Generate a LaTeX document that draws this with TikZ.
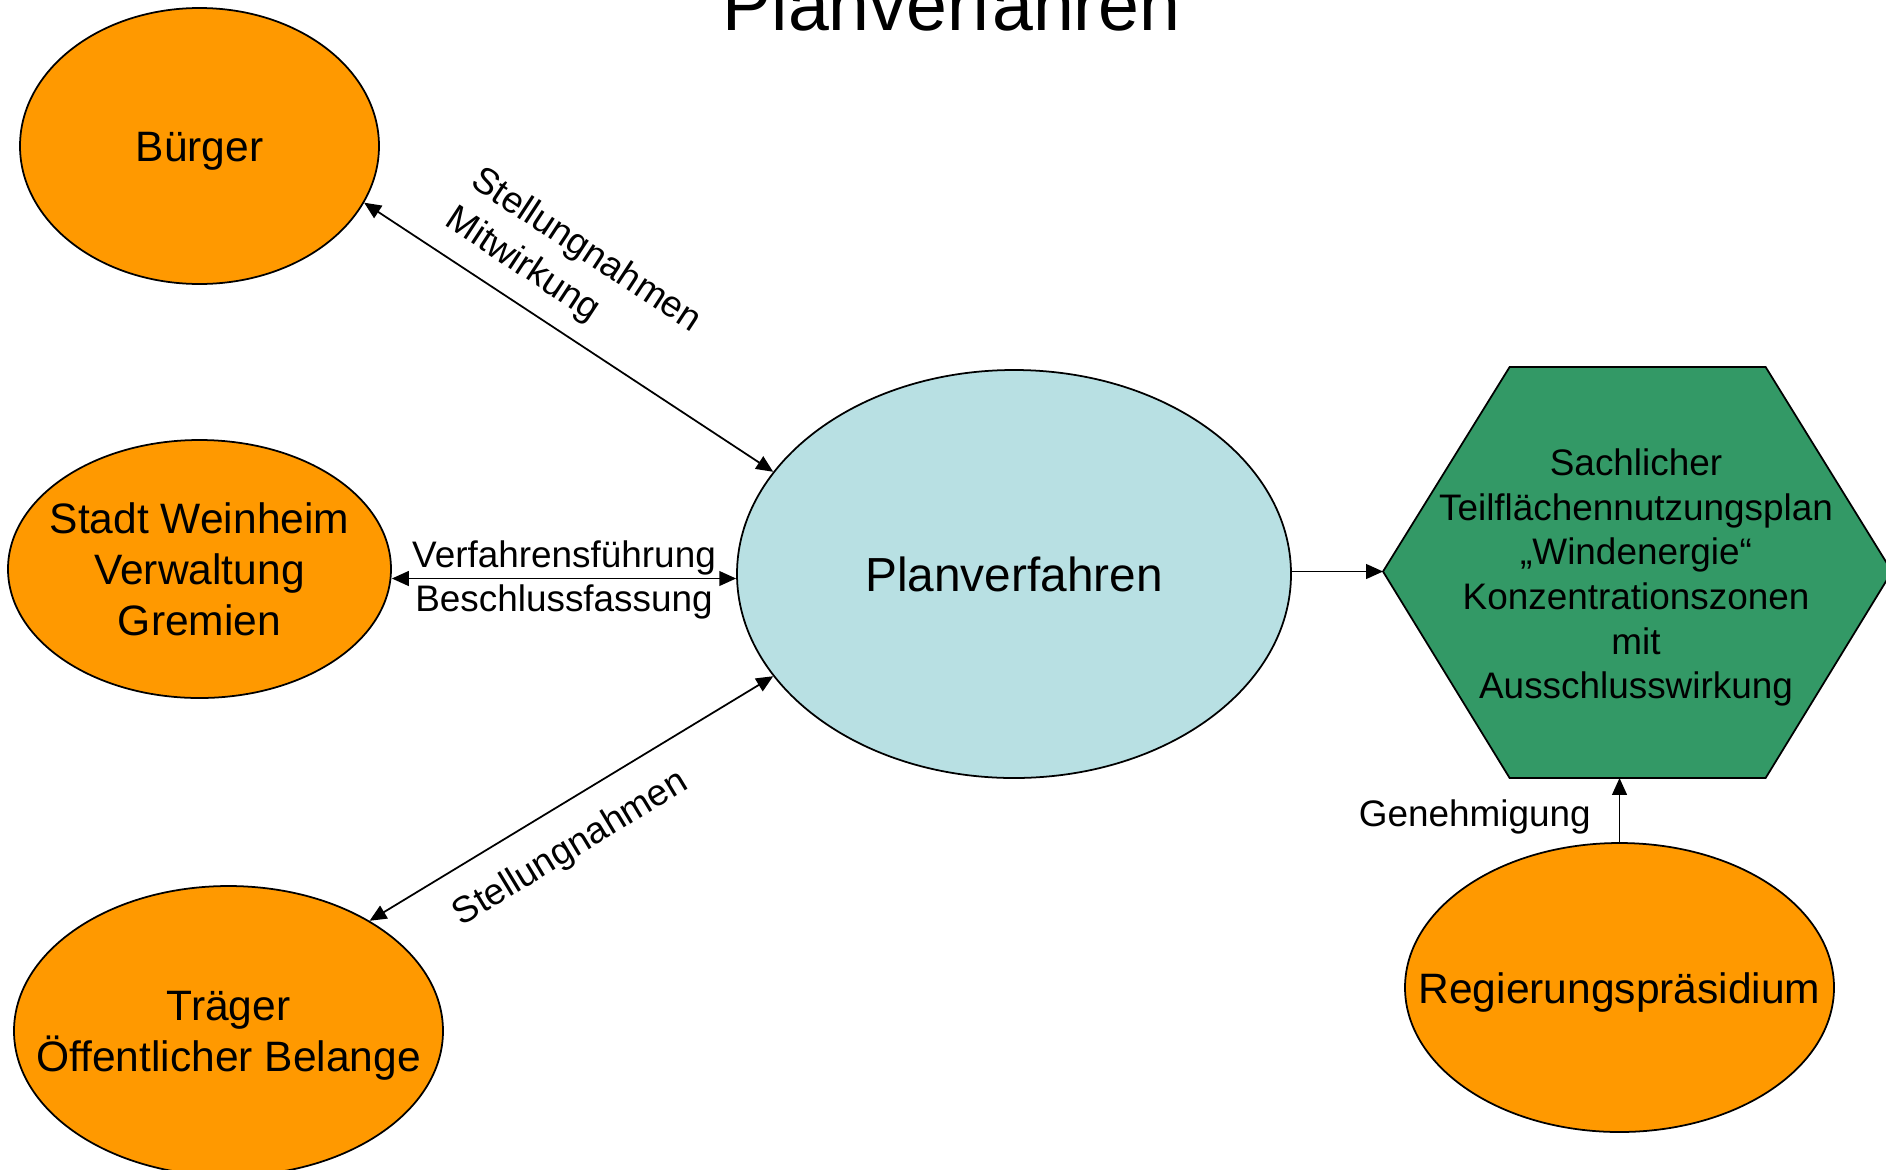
\documentclass[tikz,border=0pt]{standalone}
\usepackage{fontspec}
\setmainfont{Liberation Sans}
\usepackage{tikz}
\usetikzlibrary{shapes.geometric, arrows.meta, positioning, calc}
\usepackage{xcolor}

\definecolor{partyOrange}{HTML}{FF9900}
\definecolor{planBlue}{HTML}{B8E0E3}
\definecolor{fnpGreen}{HTML}{339966}

\begin{document}
\begin{tikzpicture}[
  party/.style={ellipse, draw=black, line width=0.5pt, fill=partyOrange, inner sep=0pt},
  partytext/.style={font=\fontsize{12.1}{14.5}\selectfont, align=center, inner sep=0pt},
  labeltext/.style={font=\fontsize{10.5}{12.7}\selectfont, inner sep=0pt},
  link/.style={line width=0.5pt, {Triangle[length=4.8pt,width=4.2pt]}-{Triangle[length=4.8pt,width=4.2pt]}},
  onelink/.style={line width=0.5pt, -{Triangle[length=4.8pt,width=4.2pt]}}
]

  \useasboundingbox (0,0) rectangle (18.86,-11.69);
  \clip (0,0) rectangle (18.86,-11.69);

  % Title
  \node[font=\fontsize{20.9}{25}\selectfont, anchor=base] (title) at (9.515,-0.31) {Planverfahren};

  % Participants
  \node[party, minimum width=3.59cm, minimum height=2.76cm] (buerger) at (1.995,-1.46) {};
  \node[partytext, yshift=-0.05cm] (buerger-text) at (buerger) {Bürger};

  \node[party, minimum width=3.83cm, minimum height=2.58cm] (stadt) at (1.995,-5.69) {};
  \node[partytext] (stadt-text) at (stadt) {Stadt Weinheim\\Verwaltung\\Gremien};

  \node[party, minimum width=4.29cm, minimum height=2.90cm] (traeger) at (2.285,-10.31) {};
  \node[partytext, yshift=-0.05cm] (traeger-text) at (traeger) {Träger\\Öffentlicher Belange};

  \node[party, minimum width=4.29cm, minimum height=2.89cm] (rp) at (16.195,-9.875) {};
  \node[partytext, yshift=-0.05cm] (rp-text) at (rp) {Regierungspräsidium};

  % Planverfahren
  \node[ellipse, draw=black, line width=0.5pt, fill=planBlue, inner sep=0pt,
        minimum width=5.54cm, minimum height=4.08cm,
        font=\fontsize{13.6}{16}\selectfont] (plan) at (10.14,-5.74) {Planverfahren};

  % Flaechennutzungsplan (hexagon)
  \coordinate (fnpW)  at (13.83,-5.715);
  \coordinate (fnpNW) at (15.096,-3.67);
  \coordinate (fnpNE) at (17.656,-3.67);
  \coordinate (fnpE)  at (18.92,-5.715);
  \coordinate (fnpSE) at (17.656,-7.78);
  \coordinate (fnpSW) at (15.096,-7.78);
  \draw[fill=fnpGreen, line width=0.5pt] (fnpW) -- (fnpNW) -- (fnpNE) -- (fnpE) -- (fnpSE) -- (fnpSW) -- cycle;
  \node[labeltext, align=center] (fnp) at (16.36,-5.775)
    {Sachlicher\\Teilflächennutzungsplan\\„Windenergie“\\Konzentrationszonen\\mit\\Ausschlusswirkung};

  % Connectors
  \draw[link] (buerger.-19.5) -- (plan.157)
    node[labeltext, sloped, pos=0.433, anchor=south, inner ysep=4.7pt, align=left,
         font=\fontsize{10.5}{13.3}\selectfont] (lbl-stell1) {Stellungnahmen\\Mitwirkung};

  \draw[link] ([yshift=-0.045cm]stadt.east |- plan.west) -- ([yshift=-0.045cm]plan.west)
    node[labeltext, pos=0.5, anchor=south, yshift=0.7pt] (lbl-verf) {Verfahrensführung}
    node[labeltext, pos=0.5, anchor=north, yshift=-1.6pt] (lbl-beschl) {Beschlussfassung};

  \draw[link] (traeger.38.8) -- (plan.203.2)
    node[labeltext, sloped, pos=0.444, anchor=north, inner ysep=7.1pt] (lbl-stell2) {Stellungnahmen};

  \draw[onelink] (plan.east |- fnpW) -- (fnpW);

  \draw[onelink] (rp.north) --
    node[labeltext, pos=0.247, anchor=base east, xshift=-0.28cm] (lbl-gen) {Genehmigung}
    (rp.north |- fnpSW);

\end{tikzpicture}
\end{document}
